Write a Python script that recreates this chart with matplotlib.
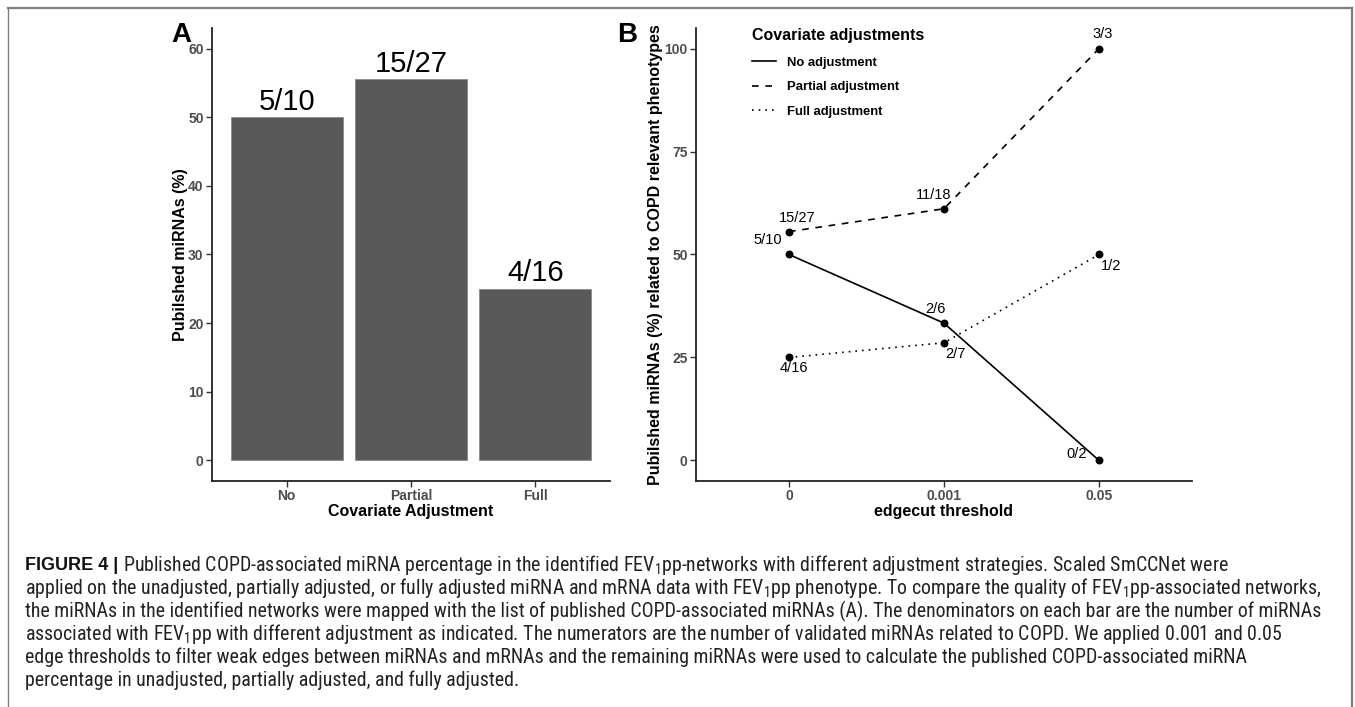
import matplotlib
matplotlib.use("Agg")
import matplotlib.pyplot as plt
from matplotlib import font_manager
from matplotlib.lines import Line2D

# panel A data
adjust_cats = ["No", "Partial", "Full"]
bar_pct = [50.0, 55.56, 25.0]
bar_labels = ["5/10", "15/27", "4/16"]

# panel B data
thresholds = ["0", "0.001", "0.05"]
no_adj = [50.0, 33.33, 0.0]
partial_adj = [55.56, 61.11, 100.0]
full_adj = [25.0, 28.57, 50.0]
no_labels = ["5/10", "2/6", "0/2"]
partial_labels = ["15/27", "11/18", "3/3"]
full_labels = ["4/16", "2/7", "1/2"]

caption_lines = [
    "Published COPD-associated miRNA percentage in the identified $\\mathrm{FEV}_1$pp-networks with different adjustment strategies. Scaled SmCCNet were",
    "applied on the unadjusted, partially adjusted, or fully adjusted miRNA and mRNA data with $\\mathrm{FEV}_1$pp phenotype. To compare the quality of $\\mathrm{FEV}_1$pp-associated networks,",
    "the miRNAs in the identified networks were mapped with the list of published COPD-associated miRNAs (A). The denominators on each bar are the number of miRNAs",
    "associated with $\\mathrm{FEV}_1$pp with different adjustment as indicated. The numerators are the number of validated miRNAs related to COPD. We applied 0.001 and 0.05",
    "edge thresholds to filter weak edges between miRNAs and mRNAs and the remaining miRNAs were used to calculate the published COPD-associated miRNA",
    "percentage in unadjusted, partially adjusted, and fully adjusted.",
]

names = {f.name for f in font_manager.fontManager.ttflist}
cap_font = "Liberation Sans"
for cand in ["Liberation Sans Narrow", "Roboto Condensed", "Open Sans Condensed"]:
    if cand in names:
        cap_font = cand
        break

plt.rcParams["font.family"] = ["Liberation Sans", "DejaVu Sans"]
plt.rcParams["mathtext.fontset"] = "custom"
plt.rcParams["mathtext.rm"] = cap_font
plt.rcParams["mathtext.it"] = cap_font
plt.rcParams["mathtext.bf"] = cap_font

W, H = 1355, 707
fig = plt.figure(figsize=(W / 100, H / 100), dpi=100)

tick_col = "#4d4d4d"


def style(ax):
    for s in ["top", "right"]:
        ax.spines[s].set_visible(False)
    for s in ["left", "bottom"]:
        ax.spines[s].set_linewidth(1.3)
        ax.spines[s].set_color("#222222")
    ax.tick_params(length=4, width=1.0, color="#333333", labelsize=10,
                   labelcolor=tick_col, pad=2)
    for lab in ax.get_xticklabels() + ax.get_yticklabels():
        lab.set_fontweight("bold")


# ---- panel A
axA = fig.add_axes([212 / W, 1 - 481 / H, (610 - 212) / W, (481 - 28) / H])
xa = range(len(adjust_cats))
axA.bar(xa, bar_pct, width=0.9, color="#595959", edgecolor="#8a8a8a", linewidth=0.6)
for i, (v, t) in enumerate(zip(bar_pct, bar_labels)):
    axA.annotate(t, (i, v), xytext=(0, 1), textcoords="offset points",
                 ha="center", va="bottom", fontsize=21)
axA.set_xlim(-0.6, 2.6)
axA.set_ylim(-3, 63)
axA.set_xticks(list(xa))
axA.set_xticklabels(adjust_cats)
axA.set_yticks([0, 10, 20, 30, 40, 50, 60])
style(axA)
axA.set_xlabel("Covariate Adjustment", fontsize=11.5, fontweight="bold")
axA.set_ylabel("Pubilshed miRNAs (%)", fontsize=11.5, fontweight="bold")
axA.xaxis.set_label_coords(0.5, -0.05)
axA.yaxis.set_label_coords(-0.06, 0.5)

# ---- panel B
axB = fig.add_axes([696 / W, 1 - 481 / H, (1192 - 696) / W, (481 - 28) / H])
xb = list(range(len(thresholds)))
series = [
    (no_adj, no_labels, "-", "No adjustment",
     [(-21, 14), (-9, 14), (-22, 6)]),
    (partial_adj, partial_labels, (0, (4, 4)), "Partial adjustment",
     [(8, 14), (-10, 14), (4, 15)]),
    (full_adj, full_labels, (0, (1, 3)), "Full adjustment",
     [(5, -11), (11, -11), (12, -11)]),
]
handles = []
for vals, labs, ls, name, offs in series:
    axB.plot(xb, vals, color="black", linestyle=ls, linewidth=1.2)
    axB.scatter(xb, vals, s=22, color="black", zorder=3)
    for x, v, t, o in zip(xb, vals, labs, offs):
        axB.annotate(t, (x, v), xytext=o, textcoords="offset pixels",
                     ha="center", va="center", fontsize=10.5)
    handles.append(Line2D([], [], color="black", linestyle=ls, linewidth=1.2, label=name))
axB.set_xlim(-0.6, 2.6)
axB.set_ylim(-5, 105)
axB.set_xticks(xb)
axB.set_xticklabels(thresholds)
axB.set_yticks([0, 25, 50, 75, 100])
style(axB)
axB.set_xlabel("edgecut threshold", fontsize=11.5, fontweight="bold")
axB.set_ylabel("Pubilshed miRNAs (%) related to COPD relevant phenotypes",
               fontsize=11.5, fontweight="bold")
axB.xaxis.set_label_coords(0.5, -0.05)
axB.yaxis.set_label_coords(-0.066, 0.5)

leg = axB.legend(handles=handles, title="Covariate adjustments", loc="upper left",
                 bbox_to_anchor=(0.10, 1.015), frameon=False, handlelength=1.8,
                 handletextpad=0.9, labelspacing=0.95, borderpad=0,
                 prop={"weight": "bold", "size": 9.4},
                 title_fontproperties={"weight": "bold", "size": 11.5},
                 alignment="left")
leg._legend_box.sep = 10

# panel letters
fig.text(181 / W, 1 - 35 / H, "A", fontsize=20, fontweight="bold", ha="center", va="center")
fig.text(627 / W, 1 - 35 / H, "B", fontsize=20, fontweight="bold", ha="center", va="center")

# frame around the figure
frame_col = "#7f7f7f"
fig.add_artist(Line2D([8 / W, 1352 / W], [1 - 8 / H, 1 - 8 / H], color=frame_col, lw=1.6))
fig.add_artist(Line2D([8 / W, 8 / W], [0, 1 - 8 / H], color=frame_col, lw=1.0))
fig.add_artist(Line2D([1352 / W, 1352 / W], [0, 1 - 8 / H], color=frame_col, lw=1.6))

# caption: fit the size so the widest line ends where the reference does
cap_y = [565, 588, 611, 634, 657, 680]
head = "FIGURE 4 | "
head_size = 13
cap_size = 13.5
renderer = fig.canvas.get_renderer()
probe = fig.text(0, 0, head, fontsize=head_size, fontweight="bold")
head_w = probe.get_window_extent(renderer).width
probe.remove()
probe = fig.text(0, 0, "", fontsize=cap_size, family=cap_font)
widths = []
for i, line in enumerate(caption_lines):
    probe.set_text(line)
    widths.append(probe.get_window_extent(renderer).width + (head_w if i == 0 else 0))
probe.remove()
cap_size = cap_size * (1322 - 25) / max(widths)

t0 = fig.text(25 / W, 1 - cap_y[0] / H, head, fontsize=head_size,
              fontweight="bold", va="center", ha="left", color="#111111")
bb = t0.get_window_extent(renderer)
fig.text(bb.x1 / W, 1 - cap_y[0] / H, caption_lines[0], fontsize=cap_size,
         family=cap_font, va="center", ha="left", color="#222222")
for y, line in zip(cap_y[1:], caption_lines[1:]):
    fig.text(25 / W, 1 - y / H, line, fontsize=cap_size, family=cap_font,
             va="center", ha="left", color="#222222")

fig.savefig("out.png", dpi=100)
